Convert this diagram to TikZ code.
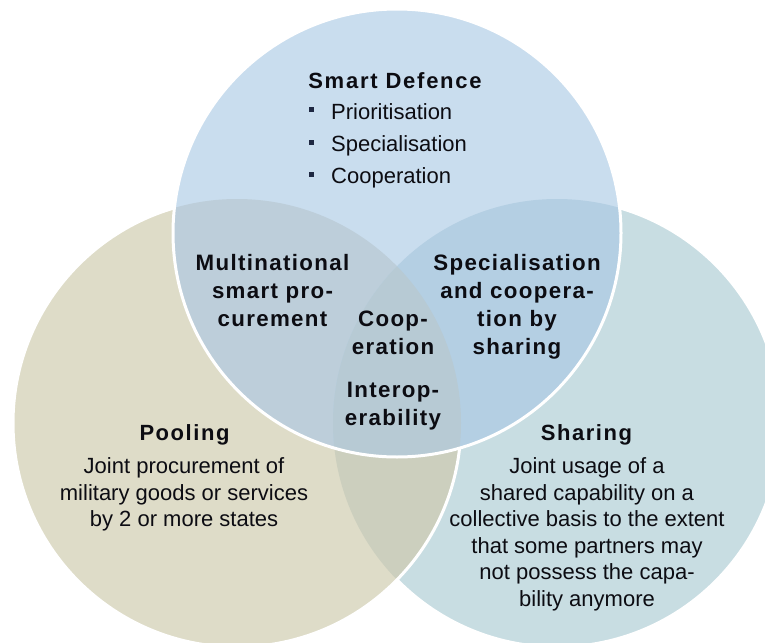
\documentclass[tikz,border=0pt]{standalone}
\usepackage{fontspec}
\setmainfont{Liberation Sans}
\newfontfamily\titlefont{Liberation Sans Bold}[LetterSpace=8]
\newfontfamily\setfont{Liberation Sans Bold}[LetterSpace=7]
\newfontfamily\zonefont{Liberation Sans Bold}[LetterSpace=6]

% region colours
\definecolor{colT}{RGB}{201,221,238}
\definecolor{colL}{RGB}{222,220,200}
\definecolor{colR}{RGB}{200,221,226}
\definecolor{colTL}{RGB}{189,206,218}
\definecolor{colTR}{RGB}{180,207,227}
\definecolor{colLR}{RGB}{204,207,190}
\definecolor{colTLR}{RGB}{183,202,212}
\definecolor{ink}{RGB}{12,12,18}
\definecolor{bulletink}{RGB}{30,40,66}

\tikzset{
  rim/.style={draw=white, line width=3pt},
  titletext/.style={font=\titlefont\fontsize{22}{22}\selectfont, text=ink, inner sep=0pt, anchor=base},
  settext/.style={font=\setfont\fontsize{22}{22}\selectfont, text=ink, inner sep=0pt, anchor=base},
  zonetext/.style={font=\zonefont\fontsize{22.3}{28.2}\selectfont, text=ink, inner sep=0pt, align=center, anchor=north},
  bodytext/.style={font=\fontsize{22}{26.5}\selectfont, text=ink, inner sep=0pt, align=center, anchor=north},
  itemtext/.style={font=\fontsize{22}{22}\selectfont, text=ink, inner sep=0pt, anchor=base west},
  itemmark/.style={fill=bulletink, minimum size=4.7pt, inner sep=0pt, draw=none},
}

\newcommand{\rad}{224pt}

\begin{document}
\begin{tikzpicture}[x=1pt,y=-1pt]
\useasboundingbox (0,0) rectangle (765,642);

\coordinate (cT) at (397,233);
\coordinate (cL) at (237,423);
\coordinate (cR) at (557,423);

% Sharing circle
\path[fill=colR, rim] (cR) circle[radius=\rad];
% Pooling circle and its lens with Sharing
\fill[colL] (cL) circle[radius=\rad];
\begin{scope}
  \clip (cL) circle[radius=\rad];
  \fill[colLR] (cR) circle[radius=\rad];
\end{scope}
\draw[rim] (cL) circle[radius=\rad];
% Smart Defence circle and its overlaps
\fill[colT] (cT) circle[radius=\rad];
\begin{scope}
  \clip (cT) circle[radius=\rad];
  \fill[colTL] (cL) circle[radius=\rad];
  \fill[colTR] (cR) circle[radius=\rad];
  \clip (cL) circle[radius=\rad];
  \fill[colTLR] (cR) circle[radius=\rad];
\end{scope}
\draw[rim] (cT) circle[radius=\rad];

% Smart Defence
\node[titletext] (sdtitle) at (395,88.3) {Smart Defence};
\node[itemmark] (m1) at (311.7,109.7) {};
\node[itemmark] (m2) at (311.7,142.3) {};
\node[itemmark] (m3) at (311.7,174.7) {};
\node[itemtext] (i1) at (331,119.5) {Prioritisation};
\node[itemtext] (i2) at (331,151.8) {Specialisation};
\node[itemtext] (i3) at (331,183.3) {Cooperation};

% overlaps
\node[zonetext] (msp) at (272.5,254) {Multinational\\smart pro-\\curement};
\node[zonetext] (scs) at (517,254) {Specialisation\\and coopera-\\tion by\\sharing};
\node[zonetext] (coop) at (393,311) {Coop-\\eration};
\node[zonetext] (interop) at (393,382) {Interop-\\erability};

% Pooling
\node[settext] (pool) at (184.5,440) {Pooling};
\node[bodytext] (pooldesc) at (184,457.5) {Joint procurement of\\military goods or services\\by 2 or more states};

% Sharing
\node[settext] (share) at (586.5,440) {Sharing};
\node[bodytext] (sharedesc) at (587,457.5) {Joint usage of a\\shared capability on a\\collective basis to the extent\\that some partners may\\not possess the capa-\\bility anymore};
\end{tikzpicture}
\end{document}
